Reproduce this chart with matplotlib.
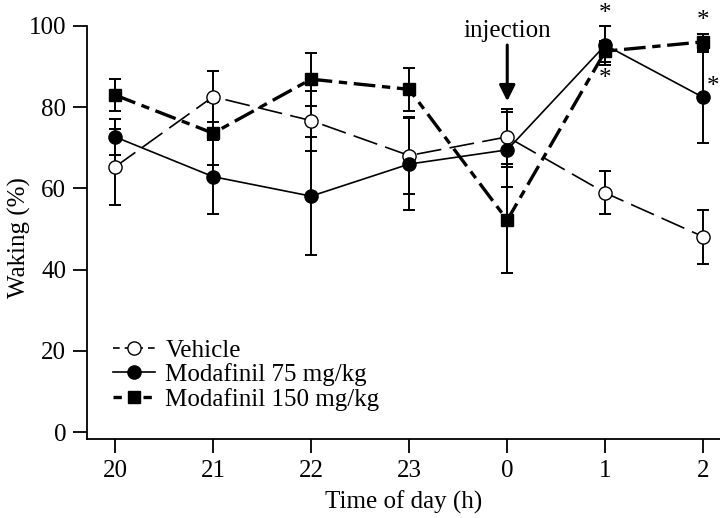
import matplotlib
matplotlib.use("Agg")
import matplotlib.pyplot as plt
from matplotlib.lines import Line2D

plt.rcParams['font.family'] = ['Liberation Serif', 'DejaVu Serif']

hours = ['20', '21', '22', '23', '0', '1', '2']
vehicle = [65.3, 82.6, 76.7, 68.1, 72.7, 58.9, 48.1]
vehicle_err = [9.3, 6.3, 7.4, 9.4, 6.8, 5.3, 6.6]
mod75 = [72.7, 62.9, 58.1, 66.0, 69.5, 95.3, 82.4]
mod75_err = [4.5, 9.1, 14.5, 11.3, 9.2, 4.8, 11.3]
mod150 = [83.0, 73.6, 86.9, 84.4, 52.2, 93.8, 96.1]
mod150_err = [4.0, 7.8, 6.5, 5.3, 13.1, 2.6, 2.0]
star_x = [5, 5, 6, 6.1]
star_y = [105.6, 89.7, 103.9, 87.7]
yticks = [0, 20, 40, 60, 80, 100]

FS = 18
fig = plt.figure(figsize=(7.2, 5.18), dpi=100)
ax = fig.add_axes([87/720, 1 - 439/518, 1 - 87/720, (439 - 26)/518])

x = list(range(len(hours)))

ekw = dict(fmt='none', ecolor='black', elinewidth=1.4, capsize=4.5, capthick=1.4, clip_on=False)
ax.errorbar(x, vehicle, yerr=vehicle_err, zorder=3, **ekw)
ax.errorbar(x, mod75, yerr=mod75_err, zorder=3, **ekw)
ax.errorbar(x, mod150, yerr=mod150_err, zorder=3, **ekw)

ax.plot(x, vehicle, color='black', lw=1.2, linestyle=(0, (15, 5)),
        marker='o', markersize=9.5, markerfacecolor='white', markeredgecolor='black',
        markeredgewidth=1.0, clip_on=False, zorder=5, label='Vehicle')
ax.plot(x, mod75, color='black', lw=1.2, linestyle='-',
        marker='o', markersize=9.5, markerfacecolor='black', markeredgecolor='black',
        clip_on=False, zorder=6, label='Modafinil 75 mg/kg')
ax.plot(x, mod150, color='black', lw=2.4, linestyle=(0, (6.5, 2, 2.5, 2)),
        marker='s', markersize=8.5, markerfacecolor='black', markeredgecolor='black',
        clip_on=False, zorder=4, label='Modafinil 150 mg/kg')

for sx, sy in zip(star_x, star_y):
    ax.text(sx, sy, '*', ha='center', va='top', fontsize=FS)

ax.annotate('', xy=(4, 80.8), xytext=(4, 96.0),
            arrowprops=dict(arrowstyle='-|>', lw=2.2, color='black', mutation_scale=24))
ax.text(4, 97.4, 'injection', ha='center', va='baseline', fontsize=FS)

ax.set_xlim(-0.286, 6.17)
ax.set_ylim(-1.7, 100)
ax.set_xticks(x)
ax.set_xticklabels(hours)
ax.set_yticks(yticks)
ax.set_yticklabels([str(v) for v in yticks])
ax.spines['top'].set_visible(False)
ax.spines['right'].set_visible(False)
ax.spines['left'].set_bounds(-1.7, 100)
for s in ['left', 'bottom']:
    ax.spines[s].set_linewidth(1.3)
ax.tick_params(axis='both', direction='out', length=10, width=1.3, labelsize=FS, pad=5)

ax.set_xlabel('Time of day (h)', fontsize=FS, labelpad=6)
ax.set_ylabel('Waking (%)', fontsize=FS)
ax.yaxis.set_label_coords(-0.088, 0.487)

handles = [
    Line2D([], [], color='black', lw=1.2, linestyle=(0, (4, 3)), marker='o', markersize=9.5,
           markerfacecolor='white', markeredgecolor='black', markeredgewidth=1.0),
    Line2D([], [], color='black', lw=1.2, linestyle='-', marker='o', markersize=9.5,
           markerfacecolor='black', markeredgecolor='black'),
    Line2D([], [], color='black', lw=2.4, linestyle=(0, (2.5, 2)), marker='s', markersize=8.5,
           markerfacecolor='black', markeredgecolor='black'),
]
ax.legend(handles, ['Vehicle', 'Modafinil 75 mg/kg', 'Modafinil 150 mg/kg'],
          loc='upper left', bbox_to_anchor=(0.041, 0.242), frameon=False, fontsize=FS,
          handlelength=1.7, handletextpad=0.4, labelspacing=0.06, borderpad=0, borderaxespad=0)

fig.savefig('out.png', dpi=100)
